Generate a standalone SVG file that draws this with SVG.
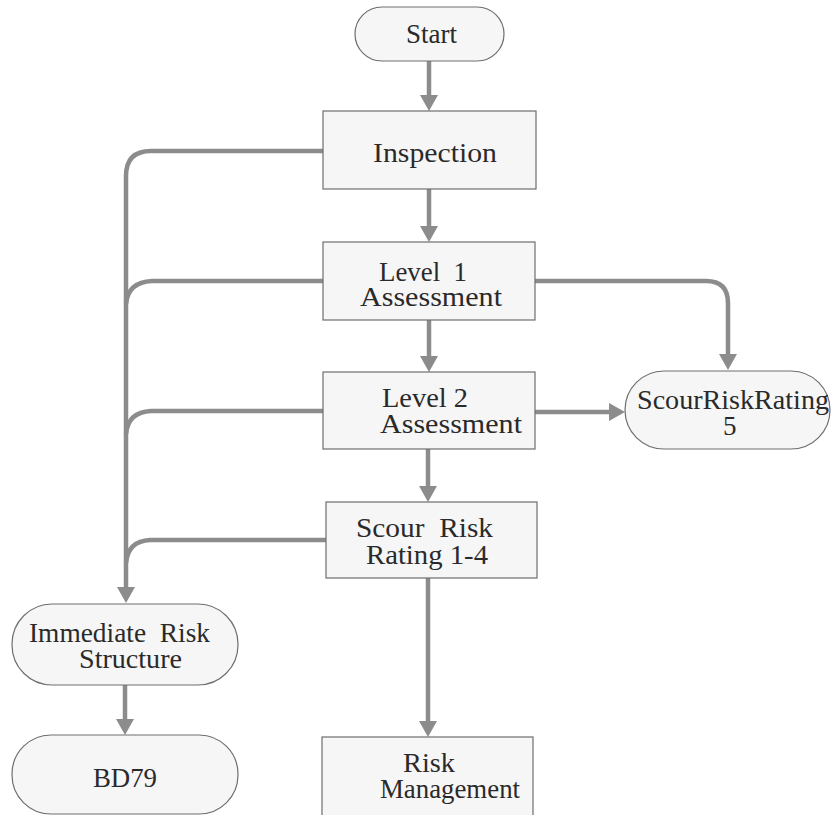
<svg xmlns="http://www.w3.org/2000/svg" width="831" height="815" viewBox="0 0 831 815">
<style>
.node{fill:#f6f6f6;stroke:#6e6e6e;stroke-width:1.2}
.t{font-family:"Liberation Serif","Times New Roman",serif;font-size:27px;fill:#2a2a2a;text-anchor:start}
.c{fill:none;stroke:#8c8c8c;stroke-width:4.5}
</style>
<defs>
<marker id="ah" viewBox="0 0 16 18" refX="6" refY="9" markerWidth="16" markerHeight="18" markerUnits="userSpaceOnUse" orient="auto">
<path d="M0,0 L16,9 L0,18 z" fill="#8c8c8c"/>
</marker>
</defs>
<rect width="831" height="815" fill="#ffffff"/>
<g id="connectors">
<path class="c" d="M429,61 V101" marker-end="url(#ah)"/>
<path class="c" d="M429,189 V232" marker-end="url(#ah)"/>
<path class="c" d="M429,320 V362" marker-end="url(#ah)"/>
<path class="c" d="M428,449 V492" marker-end="url(#ah)"/>
<path class="c" d="M428,578 V727" marker-end="url(#ah)"/>
<path class="c" d="M125,685 V725" marker-end="url(#ah)"/>
<path class="c" d="M323,151 H151 Q126,151 126,176 V593" marker-end="url(#ah)"/>
<path class="c" d="M323,281 H152 Q128,282 126,304"/>
<path class="c" d="M323,411 H151 Q128,412 126,434"/>
<path class="c" d="M326,540 H150 Q128,541 126,563"/>
<path class="c" d="M535,281 H706 Q728,281 728,303 V360" marker-end="url(#ah)"/>
<path class="c" d="M535,412 H615" marker-end="url(#ah)"/>
</g>
<g id="start">
<rect class="node" x="355" y="7" width="149" height="54" rx="27"/>
<text class="t" x="406" y="43" textLength="51" lengthAdjust="spacingAndGlyphs">Start</text>
</g>
<g id="inspection">
<rect class="node" x="323" y="111" width="213" height="78"/>
<text class="t" x="373" y="162" textLength="124" lengthAdjust="spacingAndGlyphs">Inspection</text>
</g>
<g id="level1">
<rect class="node" x="323" y="242" width="212" height="78"/>
<text class="t" x="379" y="281" textLength="88" lengthAdjust="spacingAndGlyphs" xml:space="preserve">Level  1</text>
<text class="t" x="360" y="306" textLength="142" lengthAdjust="spacingAndGlyphs">Assessment</text>
</g>
<g id="level2">
<rect class="node" x="323" y="372" width="212" height="77"/>
<text class="t" x="382" y="407" textLength="86" lengthAdjust="spacingAndGlyphs">Level 2</text>
<text class="t" x="380" y="433" textLength="142" lengthAdjust="spacingAndGlyphs">Assessment</text>
</g>
<g id="srr5">
<rect class="node" x="625" y="371" width="205" height="78" rx="39"/>
<text class="t" x="637" y="409" textLength="192" lengthAdjust="spacingAndGlyphs">ScourRiskRating</text>
<text class="t" x="723" y="435">5</text>
</g>
<g id="srr14">
<rect class="node" x="326" y="502" width="211" height="76"/>
<text class="t" x="356" y="537" textLength="137" lengthAdjust="spacingAndGlyphs" xml:space="preserve">Scour  Risk</text>
<text class="t" x="366" y="564" textLength="122" lengthAdjust="spacingAndGlyphs">Rating 1-4</text>
</g>
<g id="immediate">
<rect class="node" x="12" y="604" width="226" height="81" rx="40"/>
<text class="t" x="29" y="642" textLength="181" lengthAdjust="spacingAndGlyphs" xml:space="preserve">Immediate  Risk</text>
<text class="t" x="79" y="668" textLength="103" lengthAdjust="spacingAndGlyphs">Structure</text>
</g>
<g id="bd79">
<rect class="node" x="12" y="735" width="226" height="79" rx="39"/>
<text class="t" x="93" y="787" textLength="64" lengthAdjust="spacingAndGlyphs">BD79</text>
</g>
<g id="riskmgmt">
<rect class="node" x="322" y="737" width="211" height="80"/>
<text class="t" x="403" y="772" textLength="52" lengthAdjust="spacingAndGlyphs">Risk</text>
<text class="t" x="380" y="798" textLength="140" lengthAdjust="spacingAndGlyphs">Management</text>
</g>
</svg>
